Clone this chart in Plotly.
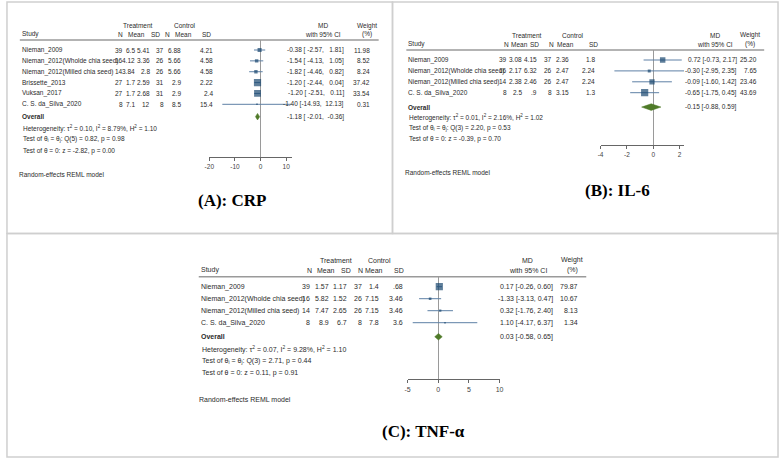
import plotly.graph_objects as go
import numpy as np

W, H = 784, 459

# ---------------- DATA ----------------
# Panel A: CRP
a_studies = ["Nieman_2009", "Nieman_2012(Wholde chia seed)", "Nieman_2012(Milled chia seed)",
             "Brissette_2013", "Vuksan_2017", "C. S. da_Silva_2020"]
a_t_n = ["39", "16", "14", "27", "27", "8"]
a_t_mean = ["6.5", "4.12", "3.84", "1.7", "1.7", "7.1"]
a_t_sd = ["5.41", "3.36", "2.8", "2.59", "2.68", "12"]
a_c_n = ["37", "26", "26", "31", "31", "8"]
a_c_mean = ["6.88", "5.66", "5.66", "2.9", "2.9", "8.5"]
a_c_sd = ["4.21", "4.58", "4.58", "2.22", "2.4", "15.4"]
a_md = [-0.38, -1.54, -1.82, -1.20, -1.20, -1.40]
a_lo = [-2.57, -4.13, -4.46, -2.44, -2.51, -14.93]
a_hi = [1.81, 1.05, 0.82, 0.04, 0.11, 12.13]
a_w = [11.98, 8.52, 8.24, 37.42, 33.54, 0.31]
a_overall = [-1.18, -2.01, -0.36]
a_het = [0.10, 8.79, 1.10]
a_q = [5, 0.82, 0.98]
a_z = [-2.82, 0.00]
a_ticks = [-20, -10, 0, 10]

# Panel B: IL-6
b_studies = ["Nieman_2009", "Nieman_2012(Wholde chia seed)", "Nieman_2012(Milled chia seed)",
             "C. S. da_Silva_2020"]
b_t_n = ["39", "16", "14", "8"]
b_t_mean = ["3.08", "2.17", "2.38", "2.5"]
b_t_sd = ["4.15", "6.32", "2.46", ".9"]
b_c_n = ["37", "26", "26", "8"]
b_c_mean = ["2.36", "2.47", "2.47", "3.15"]
b_c_sd = ["1.8", "2.24", "2.24", "1.3"]
b_md = [0.72, -0.30, -0.09, -0.65]
b_lo = [-0.73, -2.95, -1.60, -1.75]
b_hi = [2.17, 2.35, 1.42, 0.45]
b_w = [25.20, 7.65, 23.46, 43.69]
b_overall = [-0.15, -0.88, 0.59]
b_het = [0.01, 2.16, 1.02]
b_q = [3, 2.20, 0.53]
b_z = [-0.39, 0.70]
b_ticks = [-4, -2, 0, 2]

# Panel C: TNF-alpha
c_studies = ["Nieman_2009", "Nieman_2012(Wholde chia seed)", "Nieman_2012(Milled chia seed)",
             "C. S. da_Silva_2020"]
c_t_n = ["39", "16", "14", "8"]
c_t_mean = ["1.57", "5.82", "7.47", "8.9"]
c_t_sd = ["1.17", "1.52", "2.65", "6.7"]
c_c_n = ["37", "26", "26", "8"]
c_c_mean = ["1.4", "7.15", "7.15", "7.8"]
c_c_sd = [".68", "3.46", "3.46", "3.6"]
c_md = [0.17, -1.33, 0.32, 1.10]
c_lo = [-0.26, -3.13, -1.76, -4.17]
c_hi = [0.60, 0.47, 2.40, 6.37]
c_w = [79.87, 10.67, 8.13, 1.34]
c_overall = [0.03, -0.58, 0.65]
c_het = [0.07, 9.28, 1.10]
c_q = [3, 2.71, 0.44]
c_z = [0.11, 0.91]
c_ticks = [-5, 0, 5, 10]

titles = ["(A): CRP", "(B): IL-6", "(C): TNF-α"]
col_headers = ["N", "Mean", "SD", "N", "Mean", "SD"]

# ---------------- STYLE / LAYOUT ----------------
NAVY = "#1a476f"
CI_COL = "#5e80a6"
GREEN = "#4f7a28"
TXT = "#2b2b2b"
FONT = "Liberation Sans"


def px(x):
    return x / W


def py(y):
    return 1 - y / H


panels = [
    dict(  # A
        studies=a_studies, cols=[a_t_n, a_t_mean, a_t_sd, a_c_n, a_c_mean, a_c_sd],
        md=a_md, lo=a_lo, hi=a_hi, w=a_w, overall=a_overall, het=a_het, q=a_q, z=a_z,
        ticks=a_ticks, title=titles[0], pad=True,
        fs=6.5, xdom=(206.7, 290.0), top=40.0, bottom=156.7, row0=50.0, sp=10.86, ov=6.14,
        left=16.0, colx=[120.3, 132.5, 147.5, 161.7, 179.3, 211.0],
        hdrx=[116.5, 133.3, 152.0, 164.7, 180.7, 203.8],
        grp_y=26.0, hdr_y=34.5, treat_x=135.0, ctrl_x=182.0,
        md_x=343.7, md_c=321.7, wt_x=370.0, wt_c=365.7, line=(15.0, 378.0),
        het_y=[128.3, 139.3, 150.7], re=(13.0, 174.0), ttl=(230.0, 200.7)),
    dict(  # B
        studies=b_studies, cols=[b_t_n, b_t_mean, b_t_sd, b_c_n, b_c_mean, b_c_sd],
        md=b_md, lo=b_lo, hi=b_hi, w=b_w, overall=b_overall, het=b_het, q=b_q, z=b_z,
        ticks=b_ticks, title=titles[1], pad=False,
        fs=6.5, xdom=(602.5, 687.0), top=50.0, bottom=145.0, row0=60.0, sp=10.9, ov=4.32,
        left=407.0, colx=[509.3, 524.0, 538.7, 554.7, 571.3, 598.3],
        hdrx=[507.0, 520.8, 535.3, 552.5, 567.5, 595.0],
        grp_y=35.0, hdr_y=44.3, treat_x=528.3, ctrl_x=575.0,
        md_x=741.7, md_c=718.3, wt_x=762.0, wt_c=753.3, line=(406.0, 768.0),
        het_y=[117.3, 128.3, 139.3], re=(404.0, 172.3), ttl=(620.0, 191.0)),
    dict(  # C
        studies=c_studies, cols=[c_t_n, c_t_mean, c_t_sd, c_c_n, c_c_mean, c_c_sd],
        md=c_md, lo=c_lo, hi=c_hi, w=c_w, overall=c_overall, het=c_het, q=c_q, z=c_z,
        ticks=c_ticks, title=titles[2], pad=False,
        fs=7.0, xdom=(407.3, 500.3), top=276.7, bottom=379.3, row0=286.7, sp=12.0, ov=4.17,
        left=197.0, colx=[310.0, 329.0, 346.7, 362.0, 379.0, 404.0],
        hdrx=[308.0, 325.0, 345.3, 359.2, 373.0, 398.3],
        grp_y=260.0, hdr_y=270.0, treat_x=335.0, ctrl_x=379.0,
        md_x=555.7, md_c=529.0, wt_x=580.7, wt_c=574.0, line=(196.0, 588.0),
        het_y=[349.0, 360.7, 372.7], re=(195.0, 399.0), ttl=(423.3, 431.7)),
]

fig = go.Figure()
annotations = []
shapes = []


def ann(x, y, text, size, anchor="left", bold=False, color=TXT, family=FONT):
    if bold:
        text = "<b>" + text + "</b>"
    annotations.append(dict(
        x=px(x), y=py(y), xref="paper", yref="paper", text=text, showarrow=False,
        xanchor=anchor, yanchor="middle", borderpad=0,
        font=dict(size=size, color=color, family=family)))


def fmt_ci(est, lo, hi, pad):
    if pad:
        s = "%5.2f [%6.2f, %6.2f]" % (est, lo, hi)
    else:
        s = "%.2f [%.2f, %.2f]" % (est, lo, hi)
    return s.replace(" ", "\u00a0")


layout_axes = {}
for k, p in enumerate(panels):
    sfx = "" if k == 0 else str(k + 1)
    xa, ya = "x" + sfx, "y" + sfx
    n = len(p["studies"])
    idx = list(range(n))
    ytop = (p["top"] - p["row0"]) / p["sp"]
    ybot = (p["bottom"] - p["row0"]) / p["sp"]
    md = np.array(p["md"])
    lo = np.array(p["lo"])
    hi = np.array(p["hi"])
    w = np.array(p["w"])
    sizes = np.maximum(7.2 * np.sqrt(w / w.max()), 1.6)

    fig.add_trace(go.Scatter(
        x=md, y=idx, xaxis=xa, yaxis=ya, mode="markers",
        marker=dict(symbol="square", size=sizes, color=NAVY, line=dict(width=0)),
        error_x=dict(type="data", symmetric=False, array=hi - md, arrayminus=md - lo,
                     width=0, thickness=1, color=CI_COL),
        showlegend=False, hoverinfo="skip"))

    est, olo, ohi = p["overall"]
    r = p["ov"]
    h = 3.3 / p["sp"]
    fig.add_trace(go.Scatter(
        x=[olo, est, ohi, est, olo], y=[r, r - h, r, r + h, r], xaxis=xa, yaxis=ya,
        mode="lines", fill="toself", fillcolor=GREEN, line=dict(color=GREEN, width=0.5),
        showlegend=False, hoverinfo="skip"))

    r0 = min(min(p["ticks"]), float(lo.min()))
    r1 = max(max(p["ticks"]), float(hi.max()))
    layout_axes["xaxis" + sfx] = dict(
        domain=[px(p["xdom"][0]), px(p["xdom"][1])], range=[r0, r1], anchor=ya,
        tickvals=p["ticks"], ticktext=[str(t) for t in p["ticks"]],
        ticks="outside", ticklen=3, tickcolor="#666", tickwidth=1,
        showline=True, linecolor="#666", linewidth=1, showgrid=False,
        zeroline=True, zerolinecolor="#9a9a9a", zerolinewidth=1,
        tickfont=dict(size=p["fs"], color="#444", family=FONT), fixedrange=True)
    layout_axes["yaxis" + sfx] = dict(
        domain=[py(p["bottom"]), py(p["top"])], range=[ybot, ytop], anchor=xa,
        visible=False, fixedrange=True)

    fs = p["fs"]
    # headers
    ann(p["treat_x"], p["grp_y"], "Treatment", fs, "center")
    ann(p["ctrl_x"], p["grp_y"], "Control", fs, "center")
    ann(p["md_c"], p["grp_y"], "MD", fs, "center")
    ann(p["wt_c"], p["grp_y"], "Weight", fs, "center")
    ann(p["left"], p["hdr_y"], "Study", fs)
    for cx, lab in zip(p["hdrx"], col_headers):
        ann(cx, p["hdr_y"], lab, fs, "center")
    ann(p["md_c"], p["hdr_y"], "with 95% CI", fs, "center")
    ann(p["wt_c"], p["hdr_y"], "(%)", fs, "center")
    shapes.append(dict(type="line", xref="paper", yref="paper",
                       x0=px(p["line"][0]), x1=px(p["line"][1]),
                       y0=py(p["top"]), y1=py(p["top"]),
                       line=dict(color="#9a9a9a", width=1.5)))
    # rows
    for i in range(n):
        yy = p["row0"] + i * p["sp"]
        ann(p["left"], yy, p["studies"][i], fs)
        for cx, col in zip(p["colx"], p["cols"]):
            ann(cx, yy, col[i], fs, "right")
        ann(p["md_x"], yy, fmt_ci(p["md"][i], p["lo"][i], p["hi"][i], p["pad"]), fs, "right")
        ann(p["wt_x"], yy, "%.2f" % p["w"][i], fs, "right")
    # overall
    yo = p["row0"] + p["ov"] * p["sp"]
    ann(p["left"], yo, "Overall", fs, bold=True)
    ann(p["md_x"], yo, fmt_ci(est, olo, ohi, p["pad"]), fs, "right")
    t2, i2, h2 = p["het"]
    ann(p["left"] + 1, p["het_y"][0],
        "Heterogeneity: τ<sup>2</sup> = %.2f, I<sup>2</sup> = %.2f%%, H<sup>2</sup> = %.2f" % (t2, i2, h2), fs)
    ann(p["left"] + 1, p["het_y"][1],
        "Test of θ<sub>i</sub> = θ<sub>j</sub>: Q(%d) = %.2f, p = %.2f" % tuple(p["q"]), fs)
    ann(p["left"] + 1, p["het_y"][2],
        "Test of θ = 0: z = %.2f, p = %.2f" % tuple(p["z"]), fs)
    ann(p["re"][0], p["re"][1], "Random-effects REML model", fs)
    ann(p["ttl"][0], p["ttl"][1], p["title"], 17, "center", bold=True, color="#000",
        family="Liberation Serif")

# panel frames
for (x0, y0, x1, y1) in [(2, 2, 392, 233.5), (392, 2, 782, 233.5), (2, 233.5, 782, 457)]:
    shapes.append(dict(type="rect", xref="paper", yref="paper",
                       x0=px(x0), x1=px(x1), y0=py(y1), y1=py(y0),
                       line=dict(color="#cfcfcf", width=1.5)))

fig.update_layout(
    width=W, height=H, margin=dict(l=0, r=0, t=0, b=0, pad=0),
    paper_bgcolor="white", plot_bgcolor="rgba(0,0,0,0)",
    annotations=annotations, shapes=shapes, showlegend=False,
    font=dict(family=FONT, color=TXT), **layout_axes)

fig.write_html("out.html", config={"displayModeBar": False},
               post_script="document.body.style.margin='0';document.body.style.overflow='hidden';")
